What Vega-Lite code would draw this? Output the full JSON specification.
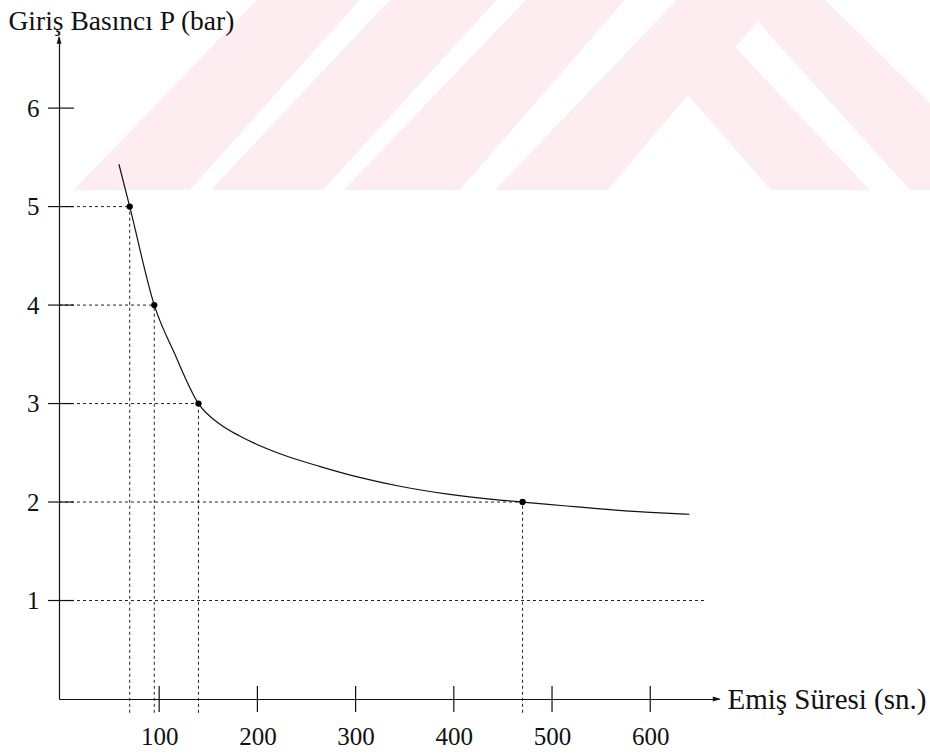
{
  "$schema": "https://vega.github.io/schema/vega-lite/v6.json",
  "width": 660,
  "height": 662,
  "autosize": {"type": "none"},
  "padding": {"left": 59, "top": 37, "right": 211, "bottom": 55},
  "background": "#ffffff",
  "encoding": {
    "x": {
      "field": "x", "type": "quantitative",
      "scale": {"domain": [-2, 670], "nice": false, "zero": false},
      "axis": {
        "zindex": 2,
        "values": [100, 200, 300, 400, 500, 600],
        "labelPadding": 25,
        "title": "Emiş Süresi (sn.)",
        "titleFontSize": 29,
        "titleAngle": 0, "titleAlign": "left", "titleBaseline": "alphabetic",
        "titleX": 668, "titleY": 9
      }
    },
    "y": {
      "field": "y", "type": "quantitative",
      "scale": {"domain": [0, 6.722], "nice": false, "zero": false},
      "axis": {
        "zindex": 2,
        "values": [1, 2, 3, 4, 5, 6],
        "labelPadding": 20,
        "title": "Giriş Basıncı P (bar)",
        "titleFontSize": 27.5,
        "titleAngle": 0, "titleAlign": "left", "titleBaseline": "alphabetic",
        "titleX": -51, "titleY": -8
      }
    }
  },
  "layer": [
    {
      "data": {"values": [
        {"piece": "S1", "y": 5.169, "x": 13.0, "x2": 131.2},
        {"piece": "S1", "y": 7.099, "x": 199.4, "x2": 304.3},
        {"piece": "S2", "y": 5.169, "x": 152.6, "x2": 266.6},
        {"piece": "S2", "y": 7.099, "x": 334.8, "x2": 443.8},
        {"piece": "S3", "y": 5.169, "x": 288.0, "x2": 406.1},
        {"piece": "S3", "y": 7.099, "x": 473.3, "x2": 574.1},
        {"piece": "P1", "y": 5.169, "x": 441.8, "x2": 556.8},
        {"piece": "P1", "y": 6.134, "x": 534.4, "x2": 638.3},
        {"piece": "P2", "y": 5.169, "x": 722.8, "x2": 823.6},
        {"piece": "P2", "y": 6.134, "x": 638.3, "x2": 732.3},
        {"piece": "P3", "y": 6.134, "x": 534.4, "x2": 732.3},
        {"piece": "P3", "y": 6.621, "x": 581.3, "x2": 686.2},
        {"piece": "P4", "y": 6.621, "x": 581.3, "x2": 686.2},
        {"piece": "P4", "y": 6.876, "x": 605.7, "x2": 709.6},
        {"piece": "P5", "y": 6.876, "x": 605.7, "x2": 800.6},
        {"piece": "P5", "y": 7.099, "x": 627.1, "x2": 777.8},
        {"piece": "P6", "y": 6.876, "x": 709.6, "x2": 800.6},
        {"piece": "P6", "y": 6.053, "x": 784.2, "x2": 884.7},
        {"piece": "P7", "y": 6.053, "x": 784.2, "x2": 889.8},
        {"piece": "P7", "y": 5.169, "x": 864.4, "x2": 889.8}
      ]},
      "mark": {"type": "area", "orient": "horizontal", "fill": "#fdedf0", "strokeWidth": 0, "opacity": 1, "clip": false},
      "encoding": {
        "x2": {"field": "x2"},
        "detail": {"field": "piece", "type": "nominal"}
      }
    },
    {
      "data": {"values": [
        {"x": -2, "x2": 70, "y": 5},
        {"x": -2, "x2": 95, "y": 4},
        {"x": -2, "x2": 140, "y": 3},
        {"x": -2, "x2": 470, "y": 2},
        {"x": -2, "x2": 656, "y": 1}
      ]},
      "mark": {"type": "rule", "color": "#222", "strokeWidth": 1, "strokeDash": [3, 3]},
      "encoding": {"x2": {"field": "x2"}}
    },
    {
      "data": {"values": [
        {"x": 70, "y": -0.14, "y2": 5},
        {"x": 95, "y": -0.14, "y2": 4},
        {"x": 140, "y": -0.14, "y2": 3},
        {"x": 470, "y": -0.14, "y2": 2}
      ]},
      "mark": {"type": "rule", "color": "#222", "strokeWidth": 1, "strokeDash": [3, 3]},
      "encoding": {"y2": {"field": "y2"}}
    },
    {
      "data": {"values": [
        {"x": 100, "y": 0}, {"x": 200, "y": 0}, {"x": 300, "y": 0},
        {"x": 400, "y": 0}, {"x": 500, "y": 0}, {"x": 600, "y": 0}
      ]},
      "mark": {"type": "tick", "orient": "vertical", "size": 26, "thickness": 1.2, "color": "#111", "opacity": 1}
    },
    {
      "data": {"values": [
        {"x": 0, "y": 1}, {"x": 0, "y": 2}, {"x": 0, "y": 3},
        {"x": 0, "y": 4}, {"x": 0, "y": 5}, {"x": 0, "y": 6}
      ]},
      "mark": {"type": "tick", "orient": "horizontal", "size": 26, "thickness": 1.2, "color": "#111", "opacity": 1}
    },
    {
      "data": {"values": [
        {"x": 59, "y": 5.43},
        {"x": 70, "y": 5.0},
        {"x": 95, "y": 4.0},
        {"x": 116, "y": 3.5},
        {"x": 140, "y": 3.0},
        {"x": 162, "y": 2.79},
        {"x": 182, "y": 2.67},
        {"x": 223, "y": 2.49},
        {"x": 264, "y": 2.36},
        {"x": 304, "y": 2.25},
        {"x": 345, "y": 2.16},
        {"x": 394, "y": 2.08},
        {"x": 447, "y": 2.02},
        {"x": 470, "y": 2.0},
        {"x": 515, "y": 1.96},
        {"x": 549, "y": 1.93},
        {"x": 600, "y": 1.895},
        {"x": 640, "y": 1.876}
      ]},
      "mark": {"type": "line", "interpolate": "monotone", "color": "#111", "strokeWidth": 1.2}
    },
    {
      "data": {"values": [
        {"x": 70, "y": 5}, {"x": 95, "y": 4}, {"x": 140, "y": 3}, {"x": 470, "y": 2}
      ]},
      "mark": {"type": "circle", "size": 40, "color": "#000", "opacity": 1}
    },
    {
      "data": {"values": [{"x": 667.8, "y": 0}]},
      "mark": {"type": "point", "shape": "M-1,-0.6L1,0L-1,0.6Z", "size": 64, "filled": true, "color": "#111", "opacity": 1}
    },
    {
      "data": {"values": [{"x": -2, "y": 6.693}]},
      "mark": {"type": "point", "shape": "M-0.6,1L0,-1L0.6,1Z", "size": 64, "filled": true, "color": "#111", "opacity": 1}
    }
  ],
  "config": {
    "view": {"stroke": null},
    "axis": {
      "grid": false,
      "ticks": false,
      "tickSize": 0,
      "domainColor": "#111",
      "domainWidth": 1.2,
      "labelFont": "Liberation Serif",
      "labelFontSize": 25,
      "labelColor": "#111",
      "labelFlush": false,
      "labelOverlap": false,
      "titleFont": "Liberation Serif",
      "titleFontSize": 28,
      "titleFontWeight": "normal",
      "titleColor": "#111",
      "zindex": 2
    }
  }
}
